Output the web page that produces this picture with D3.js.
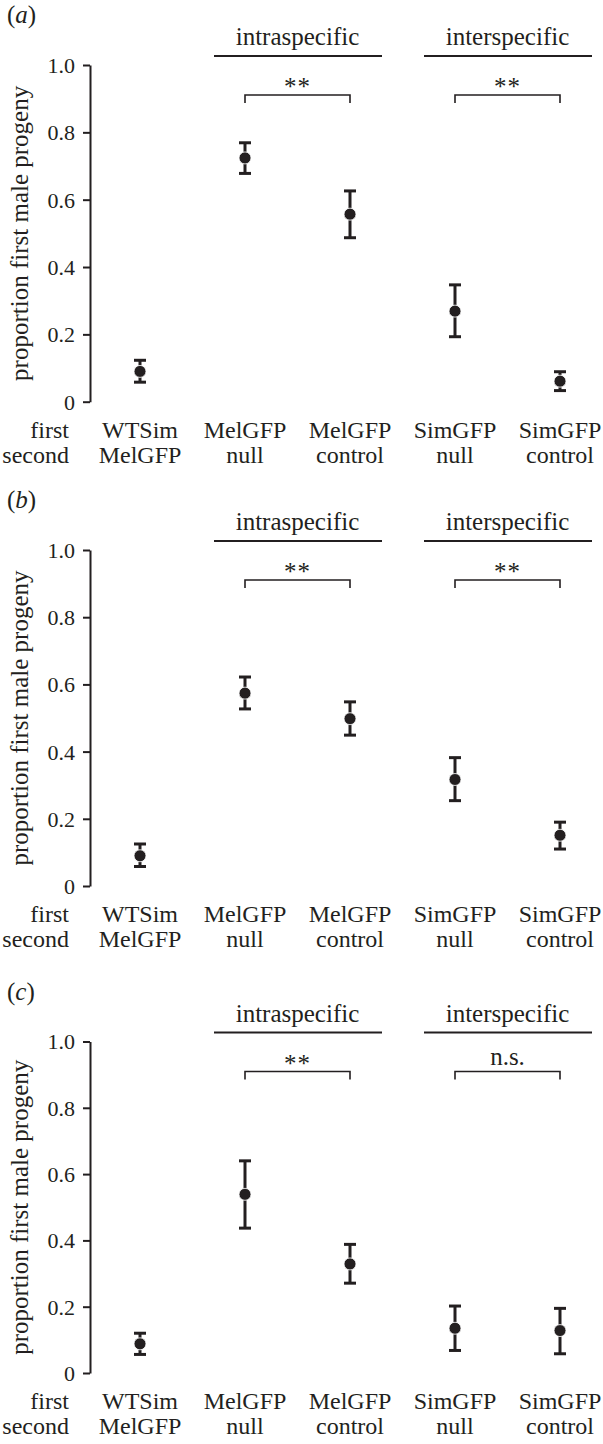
<!DOCTYPE html>
<html>
<head>
<meta charset="utf-8">
<script src="https://cdn.jsdelivr.net/npm/d3@7"></script>
<style>
  html, body { margin: 0; padding: 0; background: #fff; }
  svg { display: block; }
  text { font-family: "Liberation Serif", "Times New Roman", serif; fill: #231f20; }
</style>
</head>
<body>
<svg id="chart" width="603" height="1444"></svg>
<script>
// ---------- data ----------
const categoriesFirst  = ["WTSim", "MelGFP", "MelGFP", "SimGFP", "SimGFP"];
const categoriesSecond = ["MelGFP", "null", "control", "null", "control"];
const rowLabels = ["first", "second"];
const panelLetters = ["a", "b", "c"];

const meanA  = [0.090, 0.724, 0.557, 0.269, 0.061];
const lowerA = [0.058, 0.678, 0.487, 0.193, 0.033];
const upperA = [0.123, 0.769, 0.626, 0.347, 0.089];

const meanB  = [0.090, 0.574, 0.498, 0.317, 0.151];
const lowerB = [0.058, 0.527, 0.449, 0.254, 0.110];
const upperB = [0.125, 0.622, 0.548, 0.382, 0.190];

const meanC  = [0.088, 0.539, 0.329, 0.135, 0.128];
const lowerC = [0.056, 0.437, 0.271, 0.068, 0.058];
const upperC = [0.120, 0.640, 0.388, 0.202, 0.195];

const groupNames = ["intraspecific", "interspecific"];
const groupStart = [1, 3];
const groupEnd   = [2, 4];
const sigA = ["**", "**"];
const sigB = ["**", "**"];
const sigC = ["**", "n.s."];

const tickValues = [0, 0.2, 0.4, 0.6, 0.8, 1.0];
const tickLabels = ["0", "0.2", "0.4", "0.6", "0.8", "1.0"];
const yTitle = "proportion first male progeny";

const panels = [
  { letter: panelLetters[0], mean: meanA, lower: lowerA, upper: upperA, sig: sigA },
  { letter: panelLetters[1], mean: meanB, lower: lowerB, upper: upperB, sig: sigB },
  { letter: panelLetters[2], mean: meanC, lower: lowerC, upper: upperC, sig: sigC }
];

// ---------- layout ----------
const ink = "#231f20";
const panelTop = [0, 485, 976.5];
const axisX = 90;
const y1Rel = 65;      // position of 1.0 within the panel
const y0Rel = [401.7, 401, 396.5];
const fs = 24;

const svg = d3.select("#chart");

const x = d3.scaleLinear().domain([0, categoriesFirst.length - 1]).range([140, 560]);

panels.forEach((p, pi) => {
  const top = panelTop[pi];
  const g = svg.append("g").attr("transform", `translate(0,${top})`);
  const y = d3.scaleLinear().domain([0, 1]).range([y0Rel[pi], y1Rel]);
  const idx = d3.range(p.mean.length);

  // panel letter
  const lt = g.append("text").attr("x", 7).attr("y", 23).attr("font-size", 25);
  lt.append("tspan").text("(");
  lt.append("tspan").attr("font-style", "italic").text(p.letter);
  lt.append("tspan").text(")");

  // axis
  const axis = d3.axisLeft(y)
    .tickValues(tickValues)
    .tickFormat((d, i) => tickLabels[i])
    .tickSize(7)
    .tickSizeOuter(0)
    .tickPadding(8);
  const ag = g.append("g").attr("transform", `translate(${axisX},0)`).call(axis);
  ag.select(".domain").attr("stroke", ink).attr("stroke-width", 2);
  ag.selectAll(".tick line").attr("stroke", ink).attr("stroke-width", 2);
  ag.selectAll(".tick text")
    .attr("fill", ink)
    .attr("font-size", 22)
    .attr("font-family", '"Liberation Serif", serif')
    .attr("dy", "0.34em");

  // y title
  g.append("text")
    .attr("transform", `translate(28,${(y(0) + y(1)) / 2}) rotate(-90)`)
    .attr("text-anchor", "middle")
    .attr("font-size", 25)
    .text(yTitle);

  // row labels
  rowLabels.forEach((r, ri) => {
    g.append("text")
      .attr("x", 69)
      .attr("y", y(0) + 36 + ri * 25)
      .attr("text-anchor", "end")
      .attr("font-size", fs)
      .text(r);
  });

  // category labels
  g.selectAll(".cat1").data(idx).enter().append("text")
    .attr("x", i => x(i)).attr("y", y(0) + 36)
    .attr("text-anchor", "middle").attr("font-size", fs)
    .text(i => categoriesFirst[i]);
  g.selectAll(".cat2").data(idx).enter().append("text")
    .attr("x", i => x(i)).attr("y", y(0) + 61)
    .attr("text-anchor", "middle").attr("font-size", fs)
    .text(i => categoriesSecond[i]);

  // group headers
  groupNames.forEach((name, gi) => {
    const xa = x(groupStart[gi]), xb = x(groupEnd[gi]);
    g.append("line")
      .attr("x1", xa - 31).attr("x2", xb + 32)
      .attr("y1", y(1) - 9).attr("y2", y(1) - 9)
      .attr("stroke", ink).attr("stroke-width", 2);
    g.append("text")
      .attr("x", (xa + xb) / 2).attr("y", y(1) - 20)
      .attr("text-anchor", "middle").attr("font-size", 25)
      .text(name);
    // bracket
    g.append("path")
      .attr("d", `M${xa},${y(1) + 38}V${y(1) + 30}H${xb}V${y(1) + 38}`)
      .attr("fill", "none").attr("stroke", ink).attr("stroke-width", 1.6);
    const s = p.sig[gi];
    g.append("text")
      .attr("x", (xa + xb) / 2)
      .attr("y", s === "n.s." ? y(1) + 23 : y(1) + 30)
      .attr("text-anchor", "middle").attr("font-size", 25)
      .attr("letter-spacing", s === "n.s." ? 0 : 1)
      .text(s);
  });

  // error bars
  g.selectAll(".eb").data(idx).enter().append("line")
    .attr("x1", i => x(i)).attr("x2", i => x(i))
    .attr("y1", i => y(p.lower[i])).attr("y2", i => y(p.upper[i]))
    .attr("stroke", ink).attr("stroke-width", 3);
  ["lower", "upper"].forEach(k => {
    g.selectAll(".cap" + k).data(idx).enter().append("line")
      .attr("x1", i => x(i) - 6).attr("x2", i => x(i) + 6)
      .attr("y1", i => y(p[k][i])).attr("y2", i => y(p[k][i]))
      .attr("stroke", ink).attr("stroke-width", 3);
  });
  // points
  g.selectAll(".pt").data(idx).enter().append("circle")
    .attr("cx", i => x(i)).attr("cy", i => y(p.mean[i]))
    .attr("r", 6).attr("fill", ink)
    .attr("stroke", "#fff").attr("stroke-width", 0.8);
});
</script>
</body>
</html>
